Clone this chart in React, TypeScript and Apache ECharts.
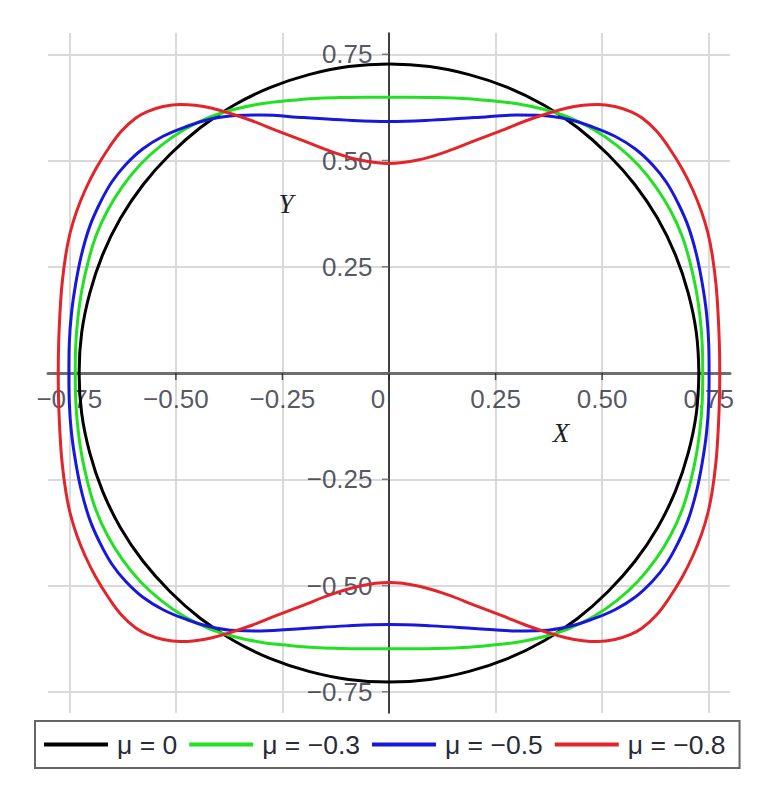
import React, { useEffect, useRef } from "react";
import * as echarts from "echarts";

// ---- data (first quadrant of each closed curve; curves are symmetric in both axes)
const seriesNames = ["μ = 0", "μ = −0.3", "μ = −0.5", "μ = −0.8"];
const seriesColors = ["#000000", "#22e022", "#1818dc", "#e3242b"];

const mu0Quadrant: number[][] = [
  [0.727, 0], [0.721, 0.095], [0.702, 0.188], [0.672, 0.278], [0.63, 0.364],
  [0.577, 0.443], [0.514, 0.514], [0.443, 0.577], [0.364, 0.63], [0.278, 0.672],
  [0.188, 0.702], [0.095, 0.721], [0, 0.727],
];
const mu03Quadrant: number[][] = [
  [0.736, 0], [0.735, 0.064], [0.73, 0.129], [0.721, 0.193], [0.707, 0.257],
  [0.688, 0.321], [0.661, 0.381], [0.626, 0.438], [0.584, 0.49], [0.535, 0.535],
  [0.48, 0.573], [0.421, 0.602], [0.36, 0.621], [0.297, 0.634], [0.235, 0.641],
  [0.174, 0.646], [0.115, 0.648], [0.057, 0.649], [0, 0.649],
];
const mu05Quadrant: number[][] = [
  [0.751, 0], [0.75, 0.07], [0.745, 0.14], [0.735, 0.21], [0.721, 0.28],
  [0.702, 0.345], [0.678, 0.4], [0.65, 0.45], [0.618, 0.49], [0.578, 0.527],
  [0.53, 0.557], [0.475, 0.58], [0.42, 0.597], [0.36, 0.606], [0.3, 0.607],
  [0.2, 0.601], [0.1, 0.595], [0, 0.592],
];
const mu08Quadrant: number[][] = [
  [0.776, 0], [0.775, 0.07], [0.772, 0.14], [0.767, 0.21], [0.758, 0.28],
  [0.748, 0.33], [0.733, 0.38], [0.713, 0.43], [0.688, 0.48], [0.657, 0.53],
  [0.627, 0.57], [0.594, 0.6], [0.567, 0.615], [0.53, 0.627], [0.49, 0.632],
  [0.455, 0.63], [0.415, 0.623], [0.37, 0.61], [0.32, 0.593], [0.265, 0.571],
  [0.2, 0.546], [0.135, 0.521], [0.068, 0.501], [0, 0.493],
];

const xTickValues = [-0.75, -0.5, -0.25, 0, 0.25, 0.5, 0.75];
const yTickValues = [-0.75, -0.5, -0.25, 0, 0.25, 0.5, 0.75];
const gridValues = [-0.75, -0.5, -0.25, 0.25, 0.5, 0.75];
const xLabelValues = [-0.75, -0.5, -0.25, 0, 0.25, 0.5, 0.75];
const yLabelValues = [-0.75, -0.5, -0.25, 0.25, 0.5, 0.75];

// build closed loop by mirroring the read quadrant
function ring(q: number[][]): number[][] {
  const out: number[][] = q.map((p) => [p[0], p[1]]);
  for (let i = q.length - 2; i >= 0; i--) out.push([-q[i][0], q[i][1]]);
  for (let i = 1; i < q.length; i++) out.push([-q[i][0], -q[i][1]]);
  for (let i = q.length - 2; i >= 0; i--) out.push([q[i][0], -q[i][1]]);
  return out;
}

const fmt = (v: number) => {
  if (v === 0) return "0";
  const s = Math.abs(v).toFixed(2);
  return v < 0 ? "\u2212" + s : s;
};

const FONT = "Liberation Sans";
const labelText = { fontSize: 26, fontFamily: FONT, color: "#2a2a3a" };

export default function App() {
  const ref = useRef<HTMLDivElement>(null);
  useEffect(() => {
    if (!ref.current) return;
    const chart = echarts.init(ref.current, undefined, { renderer: "svg" });
    const quads = [mu0Quadrant, mu03Quadrant, mu05Quadrant, mu08Quadrant];
    const curveSeries = quads.map((q, i) => ({
      name: seriesNames[i],
      type: "line",
      data: ring(q),
      showSymbol: false,
      symbol: "none",
      smooth: 0.4,
      z: 4,
      lineStyle: { color: seriesColors[i], width: 3 },
      itemStyle: { color: seriesColors[i] },
    }));
    chart.setOption({
      animation: false,
      backgroundColor: "#ffffff",
      grid: { left: 48, right: 43, top: 33, bottom: 82, containLabel: false },
      xAxis: {
        type: "value",
        min: -0.8,
        max: 0.8,
        z: 2,
        axisLine: { onZero: true, lineStyle: { color: "#6e6e6e", width: 3 } },
        axisTick: { show: false },
        axisLabel: { show: false },
        splitLine: { show: false },
      },
      yAxis: {
        type: "value",
        min: -0.8,
        max: 0.8,
        z: 2,
        axisLine: { onZero: true, lineStyle: { color: "#000", width: 1.5 } },
        axisTick: { show: false },
        axisLabel: { show: false },
        splitLine: { show: false },
      },
      legend: {
        data: seriesNames,
        left: 35,
        top: 721,
        orient: "horizontal",
        padding: [10, 14, 10, 9],
        itemGap: 12,
        itemWidth: 64,
        itemHeight: 4,
        icon: "rect",
        borderColor: "#666",
        borderWidth: 2,
        borderRadius: 0,
        textStyle: { fontSize: 26.5, fontFamily: FONT, color: "#2a2a3a", lineHeight: 25, padding: [0, 0, 0, 4] },
      },
      graphic: [
        {
          type: "text",
          x: 561,
          y: 433,
          z: 10,
          style: { text: "X", fontSize: 27, fontStyle: "italic", fontFamily: "Liberation Serif", fill: "#222", align: "center", verticalAlign: "middle" },
        },
        {
          type: "text",
          x: 286,
          y: 204,
          z: 10,
          style: { text: "Y", fontSize: 27, fontStyle: "italic", fontFamily: "Liberation Serif", fill: "#222", align: "center", verticalAlign: "middle" },
        },
      ],
      series: [
        {
          name: "grid",
          type: "line",
          data: [],
          z: 1,
          silent: true,
          markLine: {
            silent: true,
            symbol: "none",
            z: 1,
            label: { show: false },
            lineStyle: { color: "#d9d9d9", width: 2, type: "solid" },
            data: [
              ...gridValues.map((v) => ({ xAxis: v })),
              ...gridValues.map((v) => ({ yAxis: v })),
            ],
          },
        },
        {
          name: "xTicks",
          type: "scatter",
          silent: true,
          z: 3,
          symbol: "rect",
          symbolSize: [1.5, 7],
          symbolOffset: [0, 3.5],
          itemStyle: { color: "#222" },
          data: xTickValues.map((v) => [v, 0]),
        },
        {
          name: "yTicks",
          type: "scatter",
          silent: true,
          z: 3,
          symbol: "rect",
          symbolSize: [7, 1.5],
          symbolOffset: [-3.5, 0],
          itemStyle: { color: "#666" },
          data: yTickValues.map((v) => [0, v]),
        },
        {
          name: "xTickLabels",
          type: "scatter",
          silent: true,
          z: 3,
          symbolSize: 1,
          itemStyle: { color: "rgba(0,0,0,0)" },
          data: xLabelValues.map((v) => [v, 0]),
          label: {
            show: true,
            position: "bottom",
            distance: 12,
            ...labelText,
            formatter: (p: any) => fmt(p.value[0]),
          },
          labelLayout: (p: any) => (p.dataIndex === 3 ? { dx: -11 } : {}),
        },
        {
          name: "yTickLabels",
          type: "scatter",
          silent: true,
          z: 3,
          symbolSize: 1,
          itemStyle: { color: "rgba(0,0,0,0)" },
          data: yLabelValues.map((v) => [0, v]),
          label: {
            show: true,
            position: "left",
            distance: 16,
            ...labelText,
            formatter: (p: any) => fmt(p.value[1]),
          },
        },
        ...curveSeries,
      ],
    });
    return () => chart.dispose();
  }, []);
  return (
    <div
      ref={ref}
      style={{ position: "absolute", left: 0, top: 0, width: 773, height: 795, background: "#fff" }}
    />
  );
}
